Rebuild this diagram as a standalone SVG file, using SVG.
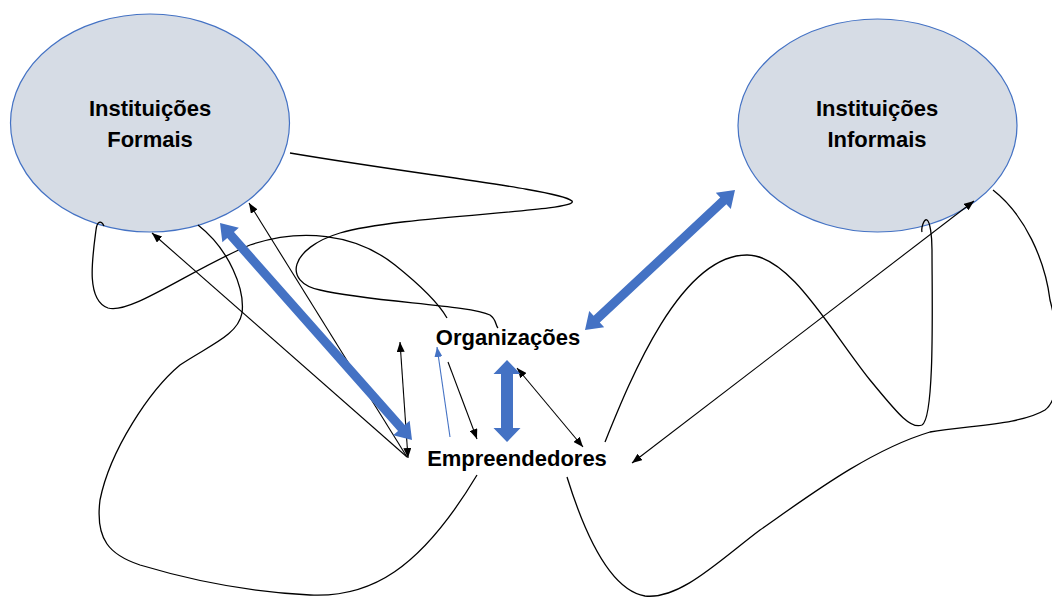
<svg xmlns="http://www.w3.org/2000/svg" width="1052" height="597" viewBox="0 0 1052 597">
<style>
.ell{fill:#D6DCE5;stroke:#4472C4;stroke-width:1.2}
.lbl{font-family:"Liberation Sans",Arial,sans-serif;font-weight:bold;font-size:22px;fill:#000;text-anchor:middle}
.curve{fill:none;stroke:#000;stroke-width:1.3}
.thin{fill:none;stroke:#000;stroke-width:1.1}
.thinblue{fill:none;stroke:#4472C4;stroke-width:1.1}
.big{fill:#4472C4;stroke:none}
</style>
<defs>
<marker id="ah" markerUnits="userSpaceOnUse" markerWidth="10" markerHeight="8" viewBox="0 0 10 8" refX="10" refY="4" orient="auto-start-reverse">
<path d="M0,0 L10,4 L0,8 z" fill="#000"/>
</marker>
<marker id="ahb" markerUnits="userSpaceOnUse" markerWidth="10" markerHeight="8" viewBox="0 0 10 8" refX="10" refY="4" orient="auto-start-reverse">
<path d="M0,0 L10,4 L0,8 z" fill="#4472C4"/>
</marker>
</defs>
<rect width="1052" height="597" fill="#fff"/>
<g id="instituicoes-formais">
<ellipse class="ell" cx="150" cy="123" rx="139.5" ry="109"/>
<text class="lbl" x="150" y="116">Instituições</text>
<text class="lbl" x="150" y="147">Formais</text>
</g>
<g id="instituicoes-informais">
<ellipse class="ell" cx="877.5" cy="125.5" rx="139.5" ry="106.5"/>
<text class="lbl" x="877" y="116">Instituições</text>
<text class="lbl" x="877" y="147">Informais</text>
</g>
<g id="organizacoes">
<text class="lbl" x="508" y="345">Organizações</text>
</g>
<g id="empreendedores">
<text class="lbl" x="517" y="466">Empreendedores</text>
</g>
<g id="connectors">
<path class="curve" d="M290,153 C420,175 560,190 572,201 C580,212 400,215 340,233 C290,248 282,282 320,290 C370,302 470,305 490,315 C497,320 495,325 498,328"/>
<path class="curve" d="M104,226 C101,220 97,221 96,230 C92,260 86,300 108,308 C130,315 190,270 250,245 C300,228 355,233 395,265 C420,285 438,302 447,318"/>
<path class="curve" d="M198,225 C230,250 245,290 242,313 C238,335 210,345 180,365 C150,390 110,450 100,500 C95,540 110,555 140,565 C190,580 250,592 310,595 C370,598 420,570 477,475"/>
<path class="curve" d="M567,477 C585,535 610,590 645,596 C680,600 720,560 760,530 C810,495 870,450 930,432 C970,425 1020,425 1045,410 C1065,395 1058,330 1050,300 C1045,260 1025,215 993,190"/>
<path class="curve" d="M605,442 C630,380 680,255 747,255 C790,255 830,330 870,380 C895,410 910,430 922,425 C935,418 932,300 932,250 C932,235 930,222 927,220 C924,218 921,228 922,232"/>
<line class="thin" x1="407" y1="457" x2="152" y2="233" marker-end="url(#ah)"/>
<line class="thin" x1="407" y1="457" x2="249" y2="203" marker-end="url(#ah)"/>
<line class="thin" x1="408" y1="458" x2="400" y2="342" marker-start="url(#ah)" marker-end="url(#ah)"/>
<line class="thin" x1="448" y1="362" x2="477" y2="439" marker-end="url(#ah)"/>
<line class="thinblue" x1="450" y1="437" x2="437" y2="347" marker-end="url(#ahb)"/>
<line class="thin" x1="517" y1="368" x2="583" y2="447" marker-start="url(#ah)" marker-end="url(#ah)"/>
<line class="thin" x1="632" y1="463" x2="974" y2="201" marker-start="url(#ah)" marker-end="url(#ah)"/>
<polygon class="big" points="220,223 222.36,242.27 227.23,237.96 398.03,431 393.16,435.31 412,440 409.64,420.73 404.77,425.04 233.97,232 238.84,227.69"/>
<polygon class="big" points="735,190 730.8,208.95 726.37,204.2 599.77,322.38 604.2,327.13 585,330 589.2,311.05 593.63,315.8 720.23,197.62 715.8,192.87"/>
<polygon class="big" points="507,360 520.5,374 513,374 513,428 520.5,428 507,442 493.5,428 501,428 501,374 493.5,374"/>
</g>
</svg>
